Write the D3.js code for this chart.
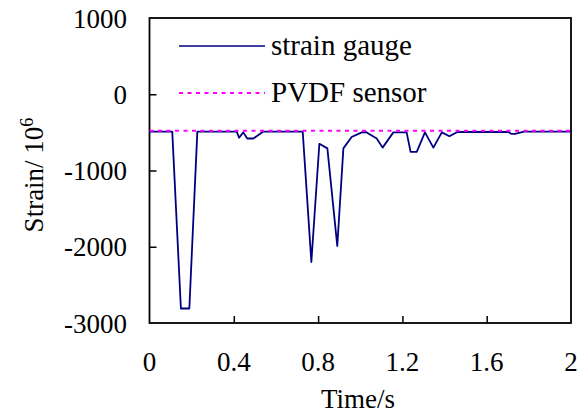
<!DOCTYPE html>
<html>
<head>
<meta charset="utf-8">
<script src="https://cdn.jsdelivr.net/npm/d3@7"></script>
<style>
  body { margin: 0; background: #fff; }
</style>
</head>
<body>
<div id="chart"></div>
<script>
// time (s) and strain readings
const gaugeTime = [0, 0.108, 0.149, 0.189, 0.227, 0.414, 0.425, 0.445, 0.464, 0.493, 0.54,
  0.727, 0.768, 0.806, 0.844, 0.891, 0.92, 0.959, 1.007, 1.027, 1.078, 1.106, 1.157,
  1.22, 1.239, 1.268, 1.307, 1.347, 1.387, 1.423, 1.461, 1.703, 1.718, 1.734, 1.777, 2.0];
const gaugeStrain = [-490, -490, -2810, -2810, -490, -490, -570, -500, -580, -580, -490,
  -490, -2200, -650, -710, -1990, -710, -560, -500, -495, -580, -700, -500,
  -500, -755, -755, -500, -700, -500, -550, -495, -495, -520, -520, -490, -490];
const pvdfTime = [0, 2];
const pvdfStrain = [-480, -480];
const xTicks = [0, 0.4, 0.8, 1.2, 1.6, 2];
const yTicks = [1000, 0, -1000, -2000, -3000];

const W = 581, H = 417;
const margin = {top: 18, right: 10, bottom: 94, left: 149.5};

const svg = d3.select("#chart").append("svg")
  .attr("width", W).attr("height", H)
  .attr("font-family", "'Liberation Serif', 'Times New Roman', Times, serif");

const x = d3.scaleLinear().domain([0, 2]).range([margin.left, W - margin.right]);
const y = d3.scaleLinear().domain([-3000, 1000]).range([H - margin.bottom, margin.top]);

const label = (px, py, str, anchor, size) => svg.append("text")
  .attr("x", px).attr("y", py)
  .attr("text-anchor", anchor)
  .attr("font-size", size || 27)
  .text(str);

// inner ticks
svg.append("g")
  .attr("transform", `translate(${margin.left},0)`)
  .call(d3.axisRight(y).tickValues(yTicks.slice(1, -1)).tickSize(7).tickFormat(""))
  .call(g => g.select(".domain").remove())
  .selectAll("line").attr("stroke", "#000").attr("stroke-width", 1.5);

svg.append("g")
  .attr("transform", `translate(0,${H - margin.bottom})`)
  .call(d3.axisTop(x).tickValues(xTicks.slice(1, -1)).tickSize(7).tickFormat(""))
  .call(g => g.select(".domain").remove())
  .selectAll("line").attr("stroke", "#000").attr("stroke-width", 1.5);

// frame
svg.append("rect")
  .attr("x", x(0)).attr("y", y(1000))
  .attr("width", x(2) - x(0)).attr("height", y(-3000) - y(1000))
  .attr("fill", "none").attr("stroke", "#000").attr("stroke-width", 1.8);

yTicks.forEach(v => label(127, y(v) + 9.5, String(v), "end"));
xTicks.forEach(v => label(x(v), 371, String(v), "middle"));

label(358, 408, "Time/s", "middle");

const yt = svg.append("text")
  .attr("transform", "translate(43,175) rotate(-90)")
  .attr("text-anchor", "middle")
  .attr("font-size", 27);
yt.append("tspan").text("Strain/ 10");
yt.append("tspan").attr("dy", -10).attr("font-size", 18).text("6");

const line = d3.line().x(d => x(d[0])).y(d => y(d[1]));

svg.append("path")
  .datum(d3.zip(gaugeTime, gaugeStrain))
  .attr("d", line)
  .attr("fill", "none").attr("stroke", "#000080").attr("stroke-width", 1.8)
  .attr("stroke-linejoin", "round");

svg.append("path")
  .datum(d3.zip(pvdfTime, pvdfStrain))
  .attr("d", line)
  .attr("fill", "none").attr("stroke", "#ff00ff").attr("stroke-width", 2)
  .attr("stroke-dasharray", "4,4.5");

// legend
const legend = [
  {name: "strain gauge", color: "#000080", dash: null, y: 46},
  {name: "PVDF sensor", color: "#ff00ff", dash: "4,4.5", y: 93}
];
legend.forEach(d => {
  svg.append("line")
    .attr("x1", 179).attr("x2", 265).attr("y1", d.y).attr("y2", d.y)
    .attr("stroke", d.color).attr("stroke-width", d.dash ? 2 : 1.5)
    .attr("stroke-dasharray", d.dash);
  label(271, d.y + 9, d.name, "start", 29);
});
</script>
</body>
</html>
